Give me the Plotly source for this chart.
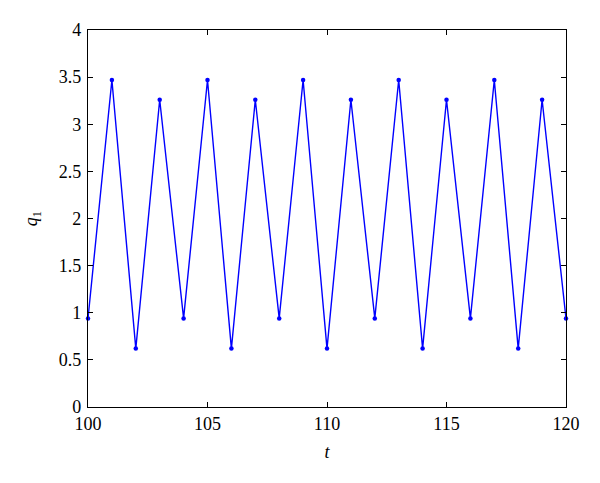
import plotly.graph_objects as go

t = list(range(100, 121))
q1 = [0.94, 3.47, 0.62, 3.26, 0.94, 3.47, 0.62, 3.26, 0.94, 3.47, 0.62,
      3.26, 0.94, 3.47, 0.62, 3.26, 0.94, 3.47, 0.62, 3.26, 0.94]

x_ticks = [100, 105, 110, 115, 120]
y_ticks = [0, 0.5, 1, 1.5, 2, 2.5, 3, 3.5, 4]
y_labels = ["0", "0.5", "1", "1.5", "2", "2.5", "3", "3.5", "4"]

font = dict(family="Liberation Serif", size=18, color="black")

fig = go.Figure()
fig.add_trace(go.Scatter(
    x=t, y=q1, mode="lines+markers",
    line=dict(color="#0000ff", width=1.4),
    marker=dict(color="#0000ff", size=4.5),
    showlegend=False, cliponaxis=False,
))

axis_common = dict(
    showline=True, linecolor="black", linewidth=1.2, mirror="ticks",
    ticks="inside", ticklen=5, tickcolor="black", tickwidth=1,
    showgrid=False, zeroline=False, tickfont=font,
)

fig.update_xaxes(range=[100, 120], tickvals=x_ticks, **axis_common,
                 title=dict(text="<i>t</i>", font=font, standoff=12))
fig.update_yaxes(range=[0, 4], tickvals=y_ticks, ticktext=y_labels, **axis_common,
                 ticklabelstandoff=2,
                 title=dict(text="<i>q</i><sub>1</sub>", font=font, standoff=16))

fig.update_layout(
    width=600, height=483,
    margin=dict(l=88, r=34, t=30, b=76),
    paper_bgcolor="white", plot_bgcolor="white",
    font=font,
)

fig.write_html("out.html", config={"displayModeBar": False},
               post_script="document.body.style.margin='0';")
